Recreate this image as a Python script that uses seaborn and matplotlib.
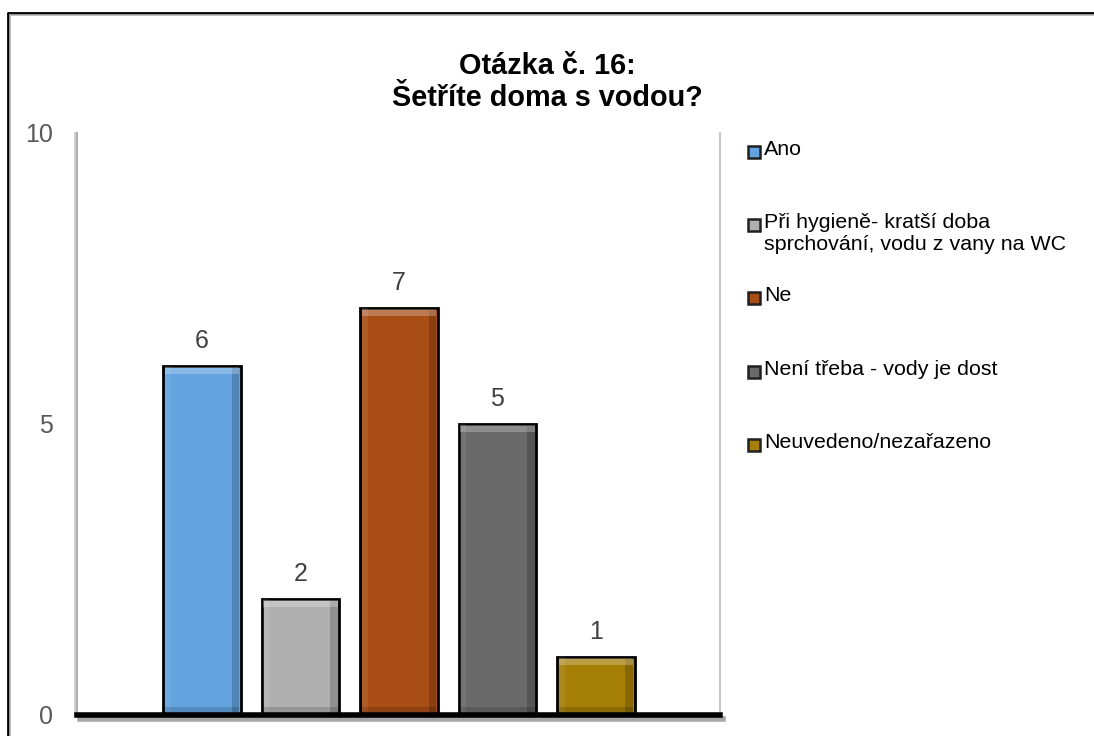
import matplotlib
matplotlib.use("Agg")
import matplotlib.pyplot as plt
import matplotlib.patheffects as pe
from matplotlib.patches import Rectangle
from matplotlib.lines import Line2D
import seaborn as sns
import pandas as pd

# data
kategorie = ["Ano",
             "Při hygieně- kratší doba\nsprchování, vodu z vany na WC",
             "Ne",
             "Není třeba - vody je dost",
             "Neuvedeno/nezařazeno"]
pocty = [6, 2, 7, 5, 1]
barvy = ["#62A3E0", "#B0B0B0", "#A94E17", "#6A6A6A", "#A67F07"]
y_ticks = [0, 5, 10]

sns.set_style("white")
plt.rcParams['font.family'] = ['Liberation Sans', 'DejaVu Sans']

df = pd.DataFrame({"kat": kategorie, "pocet": pocty})

fig = plt.figure(figsize=(10.94, 7.36), dpi=100)
ax = fig.add_axes([77/1094, 1 - 715/736, (720-77)/1094, (715-133)/736])

sns.barplot(data=df, x="kat", y="pocet", hue="kat", palette=barvy,
            dodge=False, legend=False, width=0.79, ax=ax,
            edgecolor="black", linewidth=2, saturation=1)

# bevel: darker right/bottom strip, lighter top strip
for p in ax.patches:
    x0, w, h = p.get_x(), p.get_width(), p.get_height()
    z = p.get_zorder() + 0.1
    ax.add_patch(Rectangle((x0 + w*0.88, 0), w*0.1, h, color="black", alpha=0.18, lw=0, zorder=z))
    ax.add_patch(Rectangle((x0 + w*0.02, 0), w*0.08, h, color="white", alpha=0.08, lw=0, zorder=z))
    ax.add_patch(Rectangle((x0 + w*0.02, h - 0.14), w*0.96, 0.12, color="white", alpha=0.25, lw=0, zorder=z))
    ax.add_patch(Rectangle((x0 + w*0.02, 0.02), w*0.96, 0.12, color="black", alpha=0.15, lw=0, zorder=z))

for i, v in enumerate(pocty):
    ax.text(i, v + 0.22, str(v), ha="center", va="bottom", fontsize=18, color="#404040")

ax.set_xlim(-1.27, len(pocty) - 1 + 1.26)
ax.set_ylim(0, 10)
ax.set_yticks(y_ticks)
ax.set_xticks([])
ax.set_xlabel("")
ax.set_ylabel("")
ax.tick_params(axis="y", length=0, pad=17, labelsize=18, labelcolor="#595959")

ax.spines["top"].set_visible(False)
ax.spines["left"].set_color("#B0B0B0")
ax.spines["left"].set_linewidth(1.5)
ax.spines["left"].set_path_effects([pe.SimpleLineShadow(offset=(-1.5, 0), shadow_color="#D0D0D0", alpha=1), pe.Normal()])
ax.spines["right"].set_color("#C8C8C8")
ax.spines["right"].set_linewidth(1.5)
ax.spines["bottom"].set_color("black")
ax.spines["bottom"].set_linewidth(4)
ax.spines["bottom"].set_path_effects([pe.SimpleLineShadow(offset=(2, -3), shadow_color="black", alpha=0.35), pe.Normal()])

fig.text(0.5, 1 - 82/736, "Otázka č. 16:\nŠetříte doma s vodou?", ha="center", va="center",
         fontsize=20.8, fontweight="bold", color="black", linespacing=1.15)

# legend, entries evenly spaced
for i, (lab, col) in enumerate(zip(kategorie, barvy)):
    yc = 152 + i * 73.2
    fig.patches.append(Rectangle((748/1094, 1 - (yc + 6)/736), 12/1094, 12/736,
                                 facecolor=col, edgecolor="#202020", lw=1.8,
                                 transform=fig.transFigure, figure=fig))
    fig.text(764/1094, 1 - (yc - 12)/736, lab, ha="left", va="top", fontsize=15.4,
             color="black", linespacing=1.2)

# outer frame (left and top)
fig.add_artist(Line2D([8/1094, 8/1094], [0, 1 - 13/736], transform=fig.transFigure, color="black", lw=2))
fig.add_artist(Line2D([8/1094, 1], [1 - 13/736, 1 - 13/736], transform=fig.transFigure, color="black", lw=2))
fig.add_artist(Line2D([10/1094, 1], [1 - 15/736, 1 - 15/736], transform=fig.transFigure, color="#B0B0B0", lw=1.2))
fig.add_artist(Line2D([10/1094, 10/1094], [0, 1 - 15/736], transform=fig.transFigure, color="#B0B0B0", lw=1.2))

fig.savefig("out.png", dpi=100)
